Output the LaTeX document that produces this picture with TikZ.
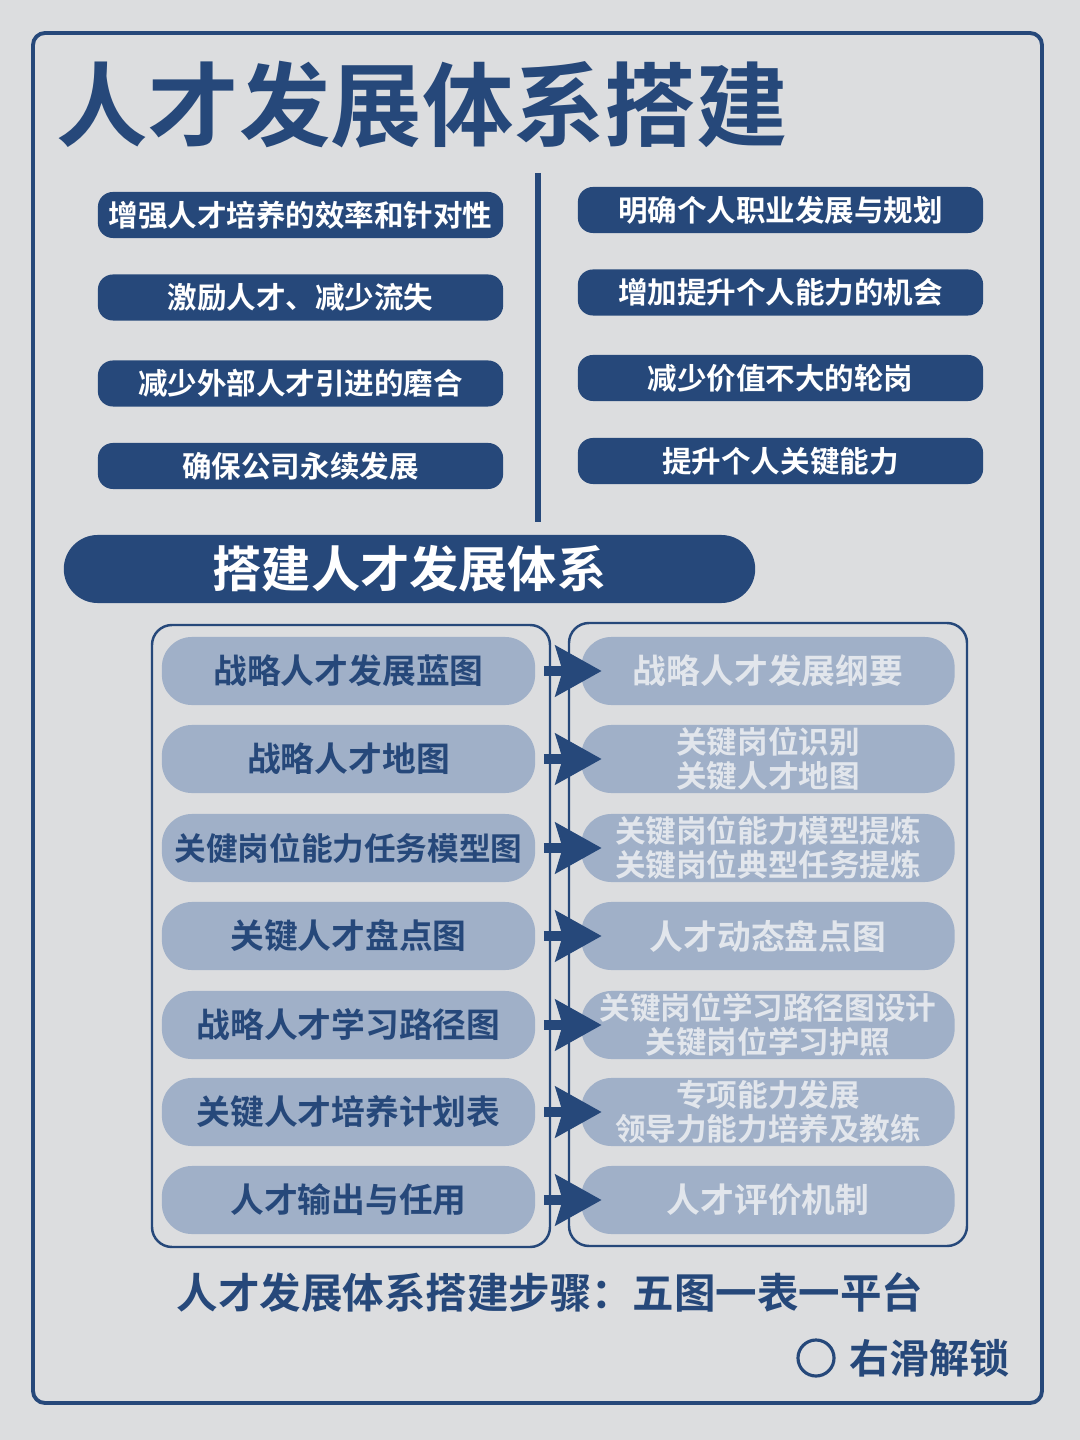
\documentclass[tikz,border=0pt]{standalone}
\usepackage{fontspec}
\setmainfont{Noto Sans CJK SC}[BoldFont={Noto Sans CJK SC Bold}]
\definecolor{HRNavy}{RGB}{38,72,122}
\definecolor{HRPale}{RGB}{160,176,200}
\definecolor{HRMist}{RGB}{226,230,236}
\definecolor{HRBack}{RGB}{220,221,223}
\usetikzlibrary{arrows.meta,positioning}

\tikzset{
  goalpill/.style={fill=HRNavy,text=white,rounded corners=0.15cm,
       minimum width=4.05cm,minimum height=0.46cm,inner sep=0pt,
       font=\fontsize{8.4}{9}\selectfont\bfseries},
  stepbox/.style={fill=HRPale,text=HRNavy,rounded corners=0.3cm,
       minimum width=3.73cm,minimum height=0.68cm,inner sep=0pt,
       font=\fontsize{9.6}{10}\selectfont\bfseries},
  outbox/.style={stepbox,text=HRMist,align=center,
       font=\fontsize{8.7}{9.7}\selectfont\bfseries},
  flow/.style={HRNavy,line width=2.85pt,
       -{Stealth[length=0.46cm,width=0.5cm,inset=0.07cm]}},
  panel/.style={HRNavy,line width=0.7pt,rounded corners=0.2cm}
}

\begin{document}
\begin{tikzpicture}[x=0.01cm,y=-0.01cm]
  %% page and outer frame
  \fill[HRBack](0,0) rectangle (1080,1440);
  \useasboundingbox (0,0) rectangle (1080,1440);
  \draw[HRNavy,line width=1.1pt,rounded corners=0.12cm](33,33) rectangle (1042,1403);
  %% title
  \node[HRNavy,inner sep=0pt,font=\fontsize{26}{28}\selectfont\bfseries]
       (title) at (422,105){人才发展体系搭建};
  %% goals, left column
  \node[goalpill] (g1) at (300.5,215){增强人才培养的效率和针对性};
  \node[goalpill] (g2) at (300.5,297.5){激励人才、减少流失};
  \node[goalpill] (g3) at (300.5,383.5){减少外部人才引进的磨合};
  \node[goalpill] (g4) at (300.5,466){确保公司永续发展};
  %% divider
  \draw[HRNavy,line width=1.9pt](538,173)--(538,522);
  %% goals, right column
  \node[goalpill] (h1) at (780.5,210){明确个人职业发展与规划};
  \node[goalpill] (h2) at (780.5,292.5){增加提升个人能力的机会};
  \node[goalpill] (h3) at (780.5,378){减少价值不大的轮岗};
  \node[goalpill] (h4) at (780.5,461){提升个人关键能力};
  %% banner
  \node[fill=HRNavy,text=white,rounded corners=0.34cm,minimum width=6.91cm,
       minimum height=0.68cm,inner sep=0pt,font=\fontsize{14}{15}\selectfont\bfseries]
       (banner) at (409.5,569){搭建人才发展体系};
  %% two panels
  \draw[panel](152,625) rectangle (550,1247);
  \draw[panel](569,623) rectangle (967,1246);
  %% five maps, one table, one platform
  \node[stepbox] (l1) at (348.5,671){战略人才发展蓝图};
  \node[stepbox] (l2) at (348.5,759){战略人才地图};
  \node[stepbox,font=\fontsize{9}{10}\selectfont\bfseries]
       (l3) at (348.5,848){关健岗位能力任务模型图};
  \node[stepbox] (l4) at (348.5,936){关键人才盘点图};
  \node[stepbox] (l5) at (348.5,1025){战略人才学习路径图};
  \node[stepbox] (l6) at (348.5,1112){关键人才培养计划表};
  \node[stepbox] (l7) at (348.5,1200){人才输出与任用};
  %% what each one delivers
  \node[outbox,font=\fontsize{9.6}{10}\selectfont\bfseries]
       (r1) at (768,671){战略人才发展纲要};
  \node[outbox] (r2) at (768,759){关键岗位识别\\关键人才地图};
  \node[outbox] (r3) at (768,848){关键岗位能力模型提炼\\关键岗位典型任务提炼};
  \node[outbox,font=\fontsize{9.6}{10}\selectfont\bfseries]
       (r4) at (768,936){人才动态盘点图};
  \node[outbox] (r5) at (768,1025){关键岗位学习路径图设计\\关键岗位学习护照};
  \node[outbox] (r6) at (768,1112){专项能力发展\\领导力能力培养及教练};
  \node[outbox,font=\fontsize{9.6}{10}\selectfont\bfseries]
       (r7) at (768,1200){人才评价机制};
  %% arrows across the panels
  \draw[flow]([xshift=0.08cm]l1.east)--([xshift=0.21cm]r1.west);
  \draw[flow]([xshift=0.08cm]l2.east)--([xshift=0.21cm]r2.west);
  \draw[flow]([xshift=0.08cm]l3.east)--([xshift=0.21cm]r3.west);
  \draw[flow]([xshift=0.08cm]l4.east)--([xshift=0.21cm]r4.west);
  \draw[flow]([xshift=0.08cm]l5.east)--([xshift=0.21cm]r5.west);
  \draw[flow]([xshift=0.08cm]l6.east)--([xshift=0.21cm]r6.west);
  \draw[flow]([xshift=0.08cm]l7.east)--([xshift=0.21cm]r7.west);
  %% footer
  \node[HRNavy,inner sep=0pt,font=\fontsize{11.8}{13}\selectfont\bfseries]
       (steps) at (550,1293){人才发展体系搭建步骤：五图一表一平台};
  \node[draw=HRNavy,line width=0.9pt,circle,minimum size=0.36cm,inner sep=0pt]
       (knob) at (816,1358){};
  \node[HRNavy,inner sep=0pt,font=\fontsize{11.4}{12}\selectfont\bfseries,
       right=0.13cm of knob] (swipe){右滑解锁};
\end{tikzpicture}
\end{document}
